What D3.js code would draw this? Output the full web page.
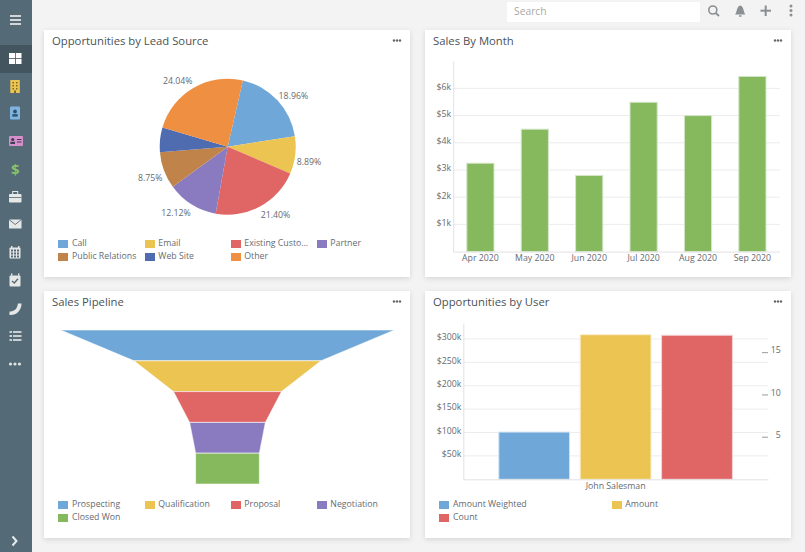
<!DOCTYPE html>
<html><head><meta charset="utf-8">
<script src="https://cdnjs.cloudflare.com/ajax/libs/d3/7.8.5/d3.min.js"></script>
<style>
html,body{margin:0;padding:0;background:#f3f3f3;overflow:hidden}
svg{display:block}
text{font-family:"Open Sans",sans-serif}
</style></head><body><svg id="c" width="805" height="552"></svg>
<script>
const leadSources=["Call","Email","Existing Custo...","Partner","Public Relations","Web Site","Other"];
const leadShares=[18.96,8.89,21.40,12.12,8.75,5.84,24.04];
const months=["Apr 2020","May 2020","Jun 2020","Jul 2020","Aug 2020","Sep 2020"];
const monthSales=[3250,4500,2800,5490,5000,6440];
const stages=["Prospecting","Qualification","Proposal","Negotiation","Closed Won"];
const stageValues=[334,187,108,75.7,63.7];
const userSeries=["Amount Weighted","Amount","Count"];
const users=["John Salesman"];
const amountWeighted=[101000];
const amount=[309000];
const count=[17];
const palette=["#6fa8d8","#ecc452","#e06666","#8a7bc1","#c0844a","#4f6cb0","#ee8f42"];
const green="#86b95e";

const svg=d3.select("#c");
const defs=svg.append("defs");
const f=defs.append("filter").attr("id","sh").attr("x","-5%").attr("y","-5%").attr("width","110%").attr("height","110%");
f.append("feDropShadow").attr("dx",0).attr("dy",1.5).attr("stdDeviation",2.5).attr("flood-color","#000").attr("flood-opacity",.13);

const titleCol="#4a5258",labelCol="#666b70",fs=8.75;
function card(x,y,t){
  const w=366,h=247;
  svg.append("rect").attr("x",x).attr("y",y).attr("width",w).attr("height",h).attr("fill","#fff").attr("filter","url(#sh)");
  svg.append("text").attr("x",x+8).attr("y",y+14.8).attr("font-size",11.3).attr("fill",titleCol).text(t);
  [-3,0,3].forEach(d=>svg.append("circle").attr("cx",x+w-13+d).attr("cy",y+10.5).attr("r",1.2).attr("fill","#666"));
}
function legend(items,colors,xs,textOff,y0){
  items.forEach((n,i)=>{
    const c=i%xs.length,r=Math.floor(i/xs.length),x=xs[c],y=y0+r*13;
    svg.append("rect").attr("x",x).attr("y",y).attr("width",10).attr("height",8).attr("fill",colors[i]);
    svg.append("text").attr("x",x+(c?textOff-.7:textOff)).attr("y",y+5.8).attr("font-size",fs).attr("fill",labelCol).text(n);
  });
}
card(44,30,"Opportunities by Lead Source");
card(425,30,"Sales By Month");
card(44,291,"Sales Pipeline");
card(425,291,"Opportunities by User");

/* pie */
const cx=227.7,cy=146.7,R=68,start=12.9*Math.PI/180;
const pie=d3.pie().sort(null).startAngle(start).endAngle(start+2*Math.PI)(leadShares);
const arc=d3.arc().innerRadius(0).outerRadius(R);
const gp=svg.append("g").attr("transform",`translate(${cx},${cy})`);
gp.selectAll("path").data(pie).join("path").attr("d",arc).attr("fill",(d,i)=>palette[i]);
pie.forEach(d=>{
  if(d.value<6)return;
  const a=(d.startAngle+d.endAngle)/2,s=Math.sin(a),c=Math.cos(a);
  gp.append("text").attr("x",69.6*s).attr("y",-77*c+1+5*Math.pow(Math.abs(s),8)+3)
    .attr("text-anchor",s>0?"start":"end").attr("font-size",fs).attr("fill",labelCol)
    .text(d.value.toFixed(2)+"%");
});
legend(leadSources,palette,[58,145,231,317],14,240);

/* monthly bars */
const grid="#ececec",axisC="#e2e2e2";
const mx=d3.scaleBand().domain(months).range([453.2,779.6]).paddingInner(.5).paddingOuter(.25);
const my=d3.scaleLinear().domain([0,7000]).range([251.6,61.2]);
const g2=svg.append("g");
g2.selectAll("line.g").data([1000,2000,3000,4000,5000,6000]).join("line").attr("x1",453.2).attr("x2",780).attr("y1",my).attr("y2",my).attr("stroke",grid);
const ay2=g2.append("g").attr("transform","translate(453.2,0)").call(d3.axisLeft(my).tickValues([1000,2000,3000,4000,5000,6000]).tickFormat(d=>"$"+d/1000+"k").tickSize(0).tickPadding(2));
ay2.select(".domain").attr("stroke",axisC);
ay2.selectAll("text").attr("font-size",fs).attr("fill",labelCol).attr("font-family",'"Open Sans"').attr("dy","0.1em");
g2.selectAll("rect").data(monthSales).join("rect").attr("x",(d,i)=>mx(months[i])).attr("width",mx.bandwidth()).attr("y",my).attr("height",d=>my(0)-my(d)).attr("fill",green).attr("stroke","#d5e6c8").attr("stroke-width",1);
const ax2=g2.append("g").attr("transform","translate(0,251.6)").call(d3.axisBottom(mx).tickSize(0).tickPadding(3));
ax2.select(".domain").attr("stroke",axisC);
ax2.selectAll("text").attr("font-size",fs).attr("fill",labelCol).attr("font-family",'"Open Sans"');

/* funnel */
const fy=d3.scaleBand().domain(stages).range([330,484]);
const fw=d3.scaleLinear().domain([0,334]).range([0,334]);
const fcx=227.5;
const fg=svg.append("g");
stages.forEach((s,i)=>{
  const t=fw(stageValues[i])/2,b=fw(stageValues[Math.min(i+1,stages.length-1)])/2,y0=fy(s),y1=y0+fy.bandwidth();
  const col=i==4?green:palette[i];
  fg.append("path").attr("d",d3.line()([[fcx-t,y0],[fcx+t,y0],[fcx+b,y1],[fcx-b,y1]])+"Z").attr("fill",col).attr("stroke","#fff").attr("stroke-opacity",.7).attr("stroke-width",.8);
});
legend(stages,[palette[0],palette[1],palette[2],palette[3],green],[58,145,231,317],14,501);

/* user bars */
const ux=d3.scaleBand().domain(users).range([463.3,768]);
const us=d3.scaleBand().domain(userSeries).range([493.5,737.7]).paddingInner(.13).paddingOuter(.065);
const uy=d3.scaleLinear().domain([0,334000]).range([479.3,323]);
const uc=d3.scaleLinear().domain([0,18.45]).range([479,323]);
const g4=svg.append("g");
const uticks=[50000,100000,150000,200000,250000,300000];
g4.selectAll("line.g").data(uticks).join("line").attr("x1",463.3).attr("x2",768).attr("y1",uy).attr("y2",uy).attr("stroke",grid);
const ay4=g4.append("g").attr("transform","translate(463.3,0)").call(d3.axisLeft(uy).tickValues(uticks).tickFormat(d=>"$"+d/1000+"k").tickSize(0).tickPadding(2));
ay4.select(".domain").attr("stroke",axisC);
ay4.selectAll("text").attr("font-size",fs).attr("fill",labelCol).attr("font-family",'"Open Sans"').attr("dy","0.1em");
const yvals=[uy(amountWeighted[0]),uy(amount[0]),uc(count[0])];
g4.selectAll("rect").data(userSeries).join("rect").attr("x",d=>us(d)).attr("width",us.bandwidth()).attr("y",(d,i)=>yvals[i]).attr("height",(d,i)=>479.3-yvals[i]).attr("fill",(d,i)=>palette[i]).attr("stroke",(d,i)=>d3.interpolateRgb(palette[i],"#fff")(.7)).attr("stroke-width",1);
const ax4=g4.append("g").attr("transform","translate(0,479.3)").call(d3.axisBottom(ux).tickSize(0).tickPadding(3));
ax4.select(".domain").attr("stroke",axisC);
ax4.selectAll("text").attr("font-size",fs).attr("fill",labelCol).attr("font-family",'"Open Sans"');
const ar=g4.append("g").attr("transform","translate(768,0)").call(d3.axisLeft(uc).tickValues([5,10,15]).tickSize(6).tickFormat(""));
ar.select(".domain").remove();
ar.selectAll("line").attr("stroke","#9a9a9a");
[5,10,15].forEach(v=>g4.append("text").attr("x",780.7).attr("y",uc(v)+1.2).attr("text-anchor","end").attr("font-size",fs).attr("fill",labelCol).text(v));
legend(userSeries,palette,[439,612],14,501);

/* sidebar */
svg.append("rect").attr("width",32).attr("height",552).attr("fill","#546a76");
svg.append("rect").attr("y",45).attr("width",32).attr("height",28).attr("fill","#435660");
const w="#e6e8e8";
let ib=svg.append("g");
const at=y=>{ib=svg.append("g").attr("transform",`translate(0,${y})`);};
const R_=(x,y,a,b,c,r)=>ib.append("rect").attr("x",x).attr("y",y).attr("width",a).attr("height",b).attr("fill",c).attr("rx",r||0);
at(20);[-4,0,4].forEach(y=>R_(10,y-.9,11,1.8,"#dfe3e4"));
at(58.5);R_(9,-5.5,6,5,"#fff");R_(15.8,-5.5,5.7,5,"#fff");R_(9,.3,6,5.2,"#fff");R_(15.8,.3,5.7,5.2,"#fff");
at(86.5);R_(10.3,-6.5,9.5,13,"#ecc452");
[-4.5,-1.5,1.5].forEach(y=>[12.5,16].forEach(x=>R_(x,y,1.5,1.5,"#7a6a2a")));R_(14,4,2,2.5,"#7a6a2a");
at(113);R_(10,-6.5,10,13,"#7fb3e0",1);ib.append("circle").attr("cx",15).attr("cy",-1.5).attr("r",1.9).attr("fill","#2f4f6a");R_(12.3,1.2,5.4,2.4,"#2f4f6a");
at(141);R_(9,-5,14,10,"#d68fc8",1);ib.append("circle").attr("cx",12.7).attr("cy",-1.5).attr("r",1.6).attr("fill","#3d3d55");R_(10.4,.8,4.6,2.2,"#3d3d55");R_(17,-2,4.5,1,"#3d3d55");R_(17,.5,4.5,1,"#3d3d55");
at(170);ib.append("text").attr("x",15.2).attr("y",5.3).attr("text-anchor","middle").attr("font-size",15).attr("font-weight",700).attr("fill","#86c06a").text("$");
at(197.5);R_(9,-3.5,12.5,8.5,w,1);ib.append("rect").attr("x",12.7).attr("y",-6).attr("width",5).attr("height",3).attr("fill","none").attr("stroke",w);R_(9,-.5,12.5,.8,"#546a76");
at(224);R_(9,-4.5,12.5,9,w,.5);
ib.append("path").attr("d",d3.line()([[9,-4.5],[15.2,0.5],[21.5,-4.5]])).attr("fill","none").attr("stroke","#546a76").attr("stroke-width",.9);
at(252.5);R_(9.5,-5,11,11,w,1);
[-3,0,3].forEach(y=>[11,14,17].forEach(x=>R_(x,y,2,2,"#546a76")));
R_(11,-6.5,1.4,2,w);R_(18,-6.5,1.4,2,w);
at(280.5);R_(9.5,-5,11,11,w,1);R_(11,-7,1.4,2,w);R_(18,-7,1.4,2,w);
ib.append("path").attr("d",d3.line()([[12,.5],[14.3,2.5],[18,-1.7]])).attr("fill","none").attr("stroke","#546a76").attr("stroke-width",1.4);
at(308.5);ib.append("path").attr("d","M9.5 3 C14 3 17 1 18 -5 L21.5 -5 C21.5 2 16.5 7 9.5 6.5 Z").attr("fill",w);
at(336);[-4,0,4].forEach(y=>{R_(13,y-.8,8.5,1.6,w);R_(9.5,y-.8,2.5,1.6,w);});
at(364);[10.5,15,19.5].forEach(x=>ib.append("circle").attr("cx",x).attr("cy",0).attr("r",1.6).attr("fill","#dfe3e4"));
at(541);ib.append("path").attr("d",d3.line()([[12.5,-4.5],[16.5,0],[12.5,4.5]])).attr("fill","none").attr("stroke","#e6ecee").attr("stroke-width",2);

/* top bar */
svg.append("rect").attr("x",507).attr("y",2).attr("width",193).attr("height",20).attr("fill","#fff");
svg.append("text").attr("x",514).attr("y",14.8).attr("font-size",10.3).attr("fill","#a9a9a9").text("Search");
const gc="#8a8f93";
svg.append("circle").attr("cx",712.8).attr("cy",10).attr("r",4).attr("fill","none").attr("stroke",gc).attr("stroke-width",1.6);
svg.append("line").attr("x1",715.8).attr("y1",13).attr("x2",719).attr("y2",16).attr("stroke",gc).attr("stroke-width",1.8);
svg.append("path").attr("d","M735 14.5 C737 13 736.5 6 740.2 5.5 C744 6 743.5 13 745.5 14.5 Z").attr("fill",gc);
svg.append("rect").attr("x",739).attr("y",15.3).attr("width",2.6).attr("height",1.4).attr("fill",gc);
svg.append("rect").attr("x",760.5).attr("y",9.7).attr("width",10.5).attr("height",2).attr("fill",gc);
svg.append("rect").attr("x",764.7).attr("y",5.5).attr("width",2).attr("height",10.5).attr("fill",gc);
[6,10.5,15].forEach(y=>svg.append("circle").attr("cx",791).attr("cy",y).attr("r",1.5).attr("fill",gc));
</script></body></html>
